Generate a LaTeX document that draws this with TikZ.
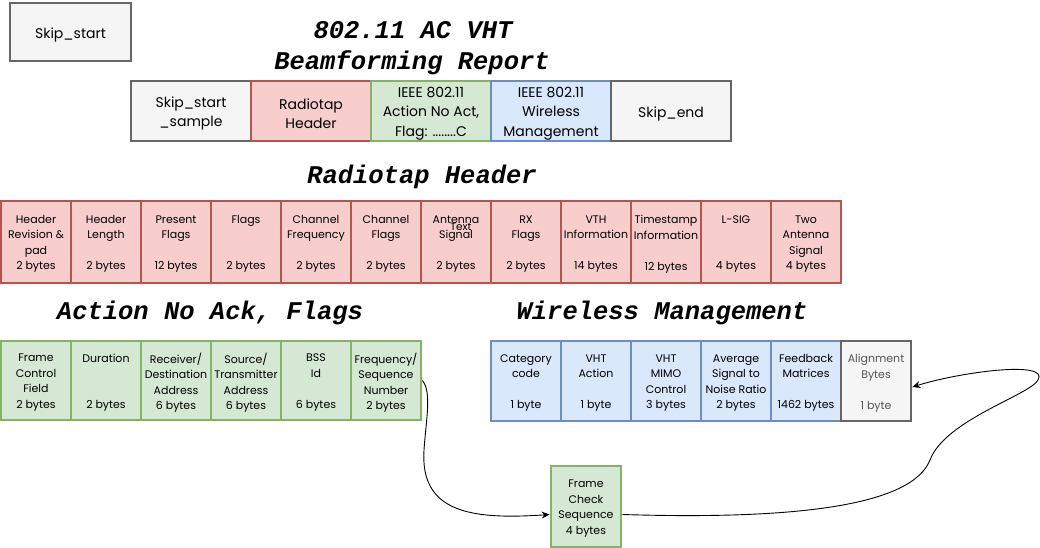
\documentclass[tikz,border=0pt]{standalone}
\usepackage{fontspec}
\setmainfont{Poppins}
\newfontfamily\titlefont{Liberation Mono}
\usetikzlibrary{arrows.meta,calc}
\definecolor{redfill}{HTML}{F8CECC}
\definecolor{redline}{HTML}{B85450}
\definecolor{greenfill}{HTML}{D5E8D4}
\definecolor{greenline}{HTML}{82B366}
\definecolor{bluefill}{HTML}{DAE8FC}
\definecolor{blueline}{HTML}{6C8EBF}
\definecolor{grayfill}{HTML}{F5F5F5}
\definecolor{grayline}{HTML}{666666}
\definecolor{graytext}{HTML}{555555}
\tikzset{
  box/.style={draw, line width=2.8pt, inner sep=0pt},
  labtext/.style={align=center, inner sep=0pt, yshift=-2pt, font={\fontsize{11}{15.5}\selectfont}},
  lab/.style={label={[labtext]center:{#1}}},
  glab/.style={label={[labtext, text=graytext]center:{#1}}},
  toplab/.style={label={[labtext, yshift=-0.5pt, font={\fontsize{14}{19.5}\selectfont}]center:{#1}}},
  redbox/.style={box, fill=redfill, draw=redline, minimum width=70pt, minimum height=82pt},
  greenbox/.style={box, fill=greenfill, draw=greenline, minimum width=70pt, minimum height=79pt},
  bluebox/.style={box, fill=bluefill, draw=blueline, minimum width=70pt, minimum height=80pt},
  graysmall/.style={box, fill=grayfill, draw=grayline, minimum width=70pt, minimum height=80pt},
  topbox/.style={box, minimum width=120pt, minimum height=60pt},
  title/.style={font={\titlefont\bfseries\itshape\fontsize{25.5}{30}\selectfont}},
  arr/.style={line width=0.9pt, -{Stealth[length=8pt,width=7pt]}}
}
\begin{document}
\begin{tikzpicture}[x=1pt,y=-1pt]
\useasboundingbox (0,0) rectangle (1040,548);
\fill[white] (0,0) rectangle (1040,548);
% top
\node[topbox, fill=grayfill, draw=grayline, minimum width=121pt, minimum height=58pt, toplab={Skip\_start}] (skipstart) at (70.5,32) {};
\node[title] (t1) at (413,30) {802.11 AC VHT};
\node[title] (t2) at (412,63) {Beamforming Report};
\node[topbox, fill=grayfill, draw=grayline, toplab={Skip\_start\\\_sample}] (tss) at (191,111) {};
\node[topbox, fill=redfill, draw=redline, toplab={Radiotap\\Header}] (trh) at (311,111) {};
\node[topbox, fill=greenfill, draw=greenline, toplab={IEEE 802.11\\Action No Act,\\Flag: ........C}] (tan) at (431,111) {};
\node[topbox, fill=bluefill, draw=blueline, toplab={IEEE 802.11\\Wireless\\Management}] (twm) at (551,111) {};
\node[topbox, fill=grayfill, draw=grayline, toplab={Skip\_end}] (tse) at (671,111) {};
% radiotap
\node[title] (t3) at (422,177) {Radiotap Header};
\node[redbox, lab={Header\\Revision \&\\pad\\2 bytes}] (r1) at (36,242) {};
\node[redbox, lab={Header\\Length\\~\\2 bytes}] (r2) at (106,242) {};
\node[redbox, lab={Present\\Flags\\~\\12 bytes}] (r3) at (176,242) {};
\node[redbox, lab={Flags\\~\\~\\2 bytes}] (r4) at (246,242) {};
\node[redbox, lab={Channel\\Frequency\\~\\2 bytes}] (r5) at (316,242) {};
\node[redbox, lab={Channel\\Flags\\~\\2 bytes}] (r6) at (386,242) {};
\node[redbox, lab={Antenna\\Signal\\~\\2 bytes}] (r7) at (456,242) {};
\node[redbox, lab={RX\\Flags\\~\\2 bytes}] (r8) at (526,242) {};
\node[redbox, lab={VTH\\Information\\~\\14 bytes}] (r9) at (596,242) {};
\node[redbox, lab={Timestamp\\Information\\~\\12 bytes}] (r10) at (666,242) {};
\node[redbox, lab={L-SIG\\~\\~\\4 bytes}] (r11) at (736,242) {};
\node[redbox, lab={Two\\Antenna\\Signal\\4 bytes}] (r12) at (806,242) {};
\node[font={\fontsize{10.5}{12}\selectfont}, inner sep=0pt] (txt) at (461,227) {Text};
% action no ack
\node[title] (t4) at (210,313) {Action No Ack, Flags};
\node[greenbox, lab={Frame\\Control\\Field\\2 bytes}] (g1) at (36,380.5) {};
\node[greenbox, lab={Duration\\~\\~\\2 bytes}] (g2) at (106,380.5) {};
\node[greenbox, lab={Receiver/\\Destination\\Address\\6 bytes}] (g3) at (176,380.5) {};
\node[greenbox, lab={Source/\\Transmitter\\Address\\6 bytes}] (g4) at (246,380.5) {};
\node[greenbox, lab={BSS\\Id\\~\\6 bytes}] (g5) at (316,380.5) {};
\node[greenbox, lab={Frequency/\\Sequence\\Number\\2 bytes}] (g6) at (386,380.5) {};
% wireless management
\node[title] (t5) at (662,313) {Wireless Management};
\node[bluebox, lab={Category\\code\\~\\1 byte}] (b1) at (526,381) {};
\node[bluebox, lab={VHT\\Action\\~\\1 byte}] (b2) at (596,381) {};
\node[bluebox, lab={VHT\\MIMO\\Control\\3 bytes}] (b3) at (666,381) {};
\node[bluebox, lab={Average\\Signal to\\Noise Ratio\\2 bytes}] (b4) at (736,381) {};
\node[bluebox, lab={Feedback\\Matrices\\~\\1462 bytes}] (b5) at (806,381) {};
\node[graysmall, glab={Alignment\\Bytes\\~\\1 byte}] (b6) at (876,381) {};
% fcs
\node[greenbox, minimum height=81pt, lab={Frame\\Check\\Sequence\\4 bytes}] (fcs) at (586,506.5) {};
% connectors
\coordinate (fcsin) at ($(fcs.west)+(0,8)$);
\coordinate (fcsout) at ($(fcs.east)+(0,8)$);
\coordinate (alin) at ($(b6.east)+(0,6)$);
\draw[arr] (g6.east) .. controls (432,392) and (426,420) .. (424,450) .. controls (420,512) and (470,520) .. (fcsin);
\draw[arr] (fcsout) .. controls (800,520) and (912,505) .. (930,460) .. controls (945,420) and (1030,395) .. (1038,380) .. controls (1050,360) and (960,372) .. (alin);
\end{tikzpicture}
\end{document}
